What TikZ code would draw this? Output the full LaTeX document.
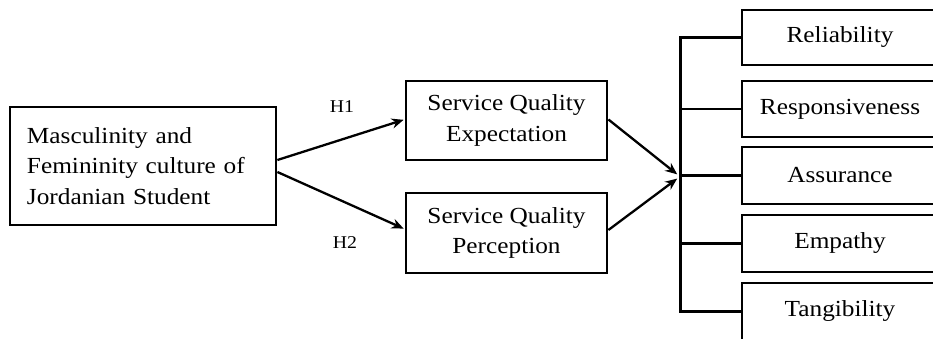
\documentclass[tikz,border=0pt]{standalone}
\usepackage{fontspec}
\setmainfont{Liberation Serif}[FakeStretch=1.1]
\usetikzlibrary{arrows.meta}
\tikzset{
  box/.style={draw, line width=2.8pt, inner sep=0pt, minimum width=#1, font=\fontsize{23}{30.5}\selectfont, align=center},
  conn/.style={line width=2.4pt},
  arr/.style={line width=2.3pt, -{Stealth[length=12pt,width=10pt]}, shorten >=1pt},
  hlab/.style={font=\fontsize{18}{20}\selectfont, inner sep=0pt}
}
\begin{document}
\begin{tikzpicture}[x=1pt,y=-1pt]
\useasboundingbox (0,0) rectangle (933,339);
% left box
\node[box=266pt, minimum height=118pt, align=left, text width=232pt, inner xsep=17pt] (lft) at (143,166)
  {Masculinity and\\Femininity culture of\\Jordanian Student};
% middle boxes
\node[box=201pt, minimum height=79pt] (sqe) at (506.5,120.5) {Service Quality\\Expectation};
\node[box=201pt, minimum height=80pt] (sqp) at (506.5,233) {Service Quality\\Perception};
% right boxes
\node[box=196pt, minimum height=55pt] (rel) at (840,37.5) {Reliability};
\node[box=196pt, minimum height=56pt] (res) at (840,109) {Responsiveness};
\node[box=196pt, minimum height=57pt] (ass) at (840,175.5) {Assurance};
\node[box=196pt, minimum height=57pt] (emp) at (840,243.5) {Empathy};
\node[box=196pt, minimum height=57pt] (tan) at (840,311.5) {Tangibility};
% labels
\node[hlab] (h1) at (342,107) {H1};
\node[hlab] (h2) at (345,243) {H2};
% bus
\coordinate (bus) at (680,177);
\draw[line width=3pt, line join=miter] (rel.west) -- (bus |- rel.west) -- (bus |- tan.west) -- (tan.west);
\draw[conn] (bus |- res.west) -- (res.west);
\draw[conn] (bus |- ass.west) -- (ass.west);
\draw[conn] (bus |- emp.west) -- (emp.west);
% arrows
\draw[arr] ([yshift=6pt]lft.east) -- ([yshift=1pt]sqe.west);
\draw[arr] ([yshift=-6pt]lft.east) -- ([yshift=4pt]sqp.west);
\draw[arr] ([yshift=1pt]sqe.east) -- ([xshift=-2pt,yshift=2pt]bus);
\draw[arr] ([yshift=3pt]sqp.east) -- ([xshift=-2pt,yshift=-1pt]bus);
\end{tikzpicture}
\end{document}
